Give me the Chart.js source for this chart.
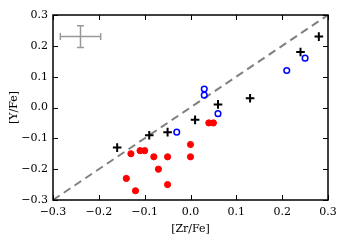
<!DOCTYPE html>
<html>
<head>
<meta charset="utf-8">
<script src="https://cdn.jsdelivr.net/npm/chart.js@4/dist/chart.umd.min.js"></script>
<style>html,body{margin:0;padding:0;background:#fff;}canvas{display:block;}</style>
</head>
<body>
<canvas id="c" width="346" height="245"></canvas>
<script>
// ---- data ----
const tickValues = [-0.3, -0.2, -0.1, 0.0, 0.1, 0.2, 0.3];
const redX = [-0.13, -0.11, -0.10, -0.08, -0.05, -0.07, -0.14, -0.12, -0.05, 0.00, 0.00, 0.04, 0.05];
const redY = [-0.15, -0.14, -0.14, -0.16, -0.16, -0.20, -0.23, -0.27, -0.25, -0.12, -0.16, -0.05, -0.05];
const blueX = [-0.03, 0.03, 0.03, 0.06, 0.21, 0.25];
const blueY = [-0.08, 0.06, 0.04, -0.02, 0.12, 0.16];
const plusX = [-0.16, -0.09, -0.05, 0.01, 0.06, 0.13, 0.24, 0.28];
const plusY = [-0.13, -0.09, -0.08, -0.04, 0.01, 0.03, 0.18, 0.23];
const diagX = [-0.3, 0.3];
const diagY = [-0.3, 0.3];
const errCenter = [-0.24, 0.23];
const errHalf = [0.044, 0.035];
const xLabel = '[Zr/Fe]';
const yLabel = '[Y/Fe]';

const pts = (xs, ys) => xs.map((v, i) => ({x: v, y: ys[i]}));
const fmt = v => { const r = Math.round(v * 10) / 10; return (r < 0 ? '\u2212' : '') + Math.abs(r).toFixed(1); };
const FONT = 'DejaVu Serif';

const errPlugin = {
  id: 'errbar',
  beforeDatasetsDraw(chart) {
    const {ctx, scales: {x, y}} = chart;
    const cx = x.getPixelForValue(errCenter[0]), cy = y.getPixelForValue(errCenter[1]);
    const x0 = x.getPixelForValue(errCenter[0] - errHalf[0]), x1 = x.getPixelForValue(errCenter[0] + errHalf[0]);
    const y0 = y.getPixelForValue(errCenter[1] + errHalf[1]), y1 = y.getPixelForValue(errCenter[1] - errHalf[1]);
    ctx.save();
    ctx.strokeStyle = '#999999';
    ctx.lineWidth = 1.5;
    ctx.beginPath();
    ctx.moveTo(x0, cy); ctx.lineTo(x1, cy);
    ctx.moveTo(cx, y0); ctx.lineTo(cx, y1);
    ctx.moveTo(x0, cy - 3.5); ctx.lineTo(x0, cy + 3.5);
    ctx.moveTo(x1, cy - 3.5); ctx.lineTo(x1, cy + 3.5);
    ctx.moveTo(cx - 3.5, y0); ctx.lineTo(cx + 3.5, y0);
    ctx.moveTo(cx - 3.5, y1); ctx.lineTo(cx + 3.5, y1);
    ctx.stroke();
    ctx.restore();
  }
};

const framePlugin = {
  id: 'frame',
  afterDatasetsDraw(chart) {
    const {ctx, chartArea: a, scales: {x, y}} = chart;
    ctx.save();
    ctx.strokeStyle = '#000';
    ctx.lineWidth = 1;
    ctx.beginPath();
    tickValues.forEach(v => {
      const px = Math.round(x.getPixelForValue(v)) + 0.5;
      ctx.moveTo(px, a.bottom); ctx.lineTo(px, a.bottom - 5);
      ctx.moveTo(px, a.top); ctx.lineTo(px, a.top + 5);
      const py = Math.round(y.getPixelForValue(v)) + 0.5;
      ctx.moveTo(a.left, py); ctx.lineTo(a.left + 5, py);
      ctx.moveTo(a.right, py); ctx.lineTo(a.right - 5, py);
    });
    ctx.stroke();
    ctx.lineWidth = 1.5;
    ctx.strokeRect(a.left, a.top, a.right - a.left, a.bottom - a.top);
    ctx.restore();
  }
};

new Chart(document.getElementById('c'), {
  type: 'scatter',
  data: {
    datasets: [
      {type: 'line', data: pts(diagX, diagY), borderColor: '#808080', borderWidth: 2, borderDash: [8, 5], pointRadius: 0, fill: false, order: 10},
      {data: pts(redX, redY), backgroundColor: '#ff0000', borderColor: '#ff0000', borderWidth: 1, pointRadius: 3.1, order: 3},
      {data: pts(blueX, blueY), backgroundColor: 'rgba(0,0,0,0)', borderColor: '#0000ff', borderWidth: 1.5, pointRadius: 2.8, order: 2},
      {data: pts(plusX, plusY), pointStyle: 'cross', borderColor: '#000', borderWidth: 2, pointRadius: 4.3, order: 1}
    ]
  },
  options: {
    responsive: false,
    animation: false,
    events: [],
    layout: {padding: {top: 15, right: 18, left: 0, bottom: 0}},
    plugins: {legend: {display: false}, tooltip: {enabled: false}},
    scales: {
      x: {
        type: 'linear', min: -0.3, max: 0.3,
        afterBuildTicks: s => { s.ticks = tickValues.map(v => ({value: v})); },
        afterFit: s => { s.height = 45; },
        grid: {display: false, drawTicks: false},
        border: {display: false},
        ticks: {padding: 6, color: '#000', font: {family: FONT, size: 11}, callback: v => fmt(v), maxRotation: 0, autoSkip: false},
        title: {display: true, text: xLabel, color: '#000', font: {family: FONT, size: 11}, padding: {top: 0, bottom: 9.5}}
      },
      y: {
        type: 'linear', min: -0.3, max: 0.3,
        afterBuildTicks: s => { s.ticks = tickValues.map(v => ({value: v})); },
        afterFit: s => { s.width = 53; },
        grid: {display: false, drawTicks: false},
        border: {display: false},
        ticks: {padding: 5, color: '#000', font: {family: FONT, size: 11}, callback: v => fmt(v), autoSkip: false},
        title: {display: true, text: yLabel, color: '#000', font: {family: FONT, size: 11}, padding: {top: 8, bottom: 0}}
      }
    }
  },
  plugins: [errPlugin, framePlugin]
});
</script>
</body>
</html>
